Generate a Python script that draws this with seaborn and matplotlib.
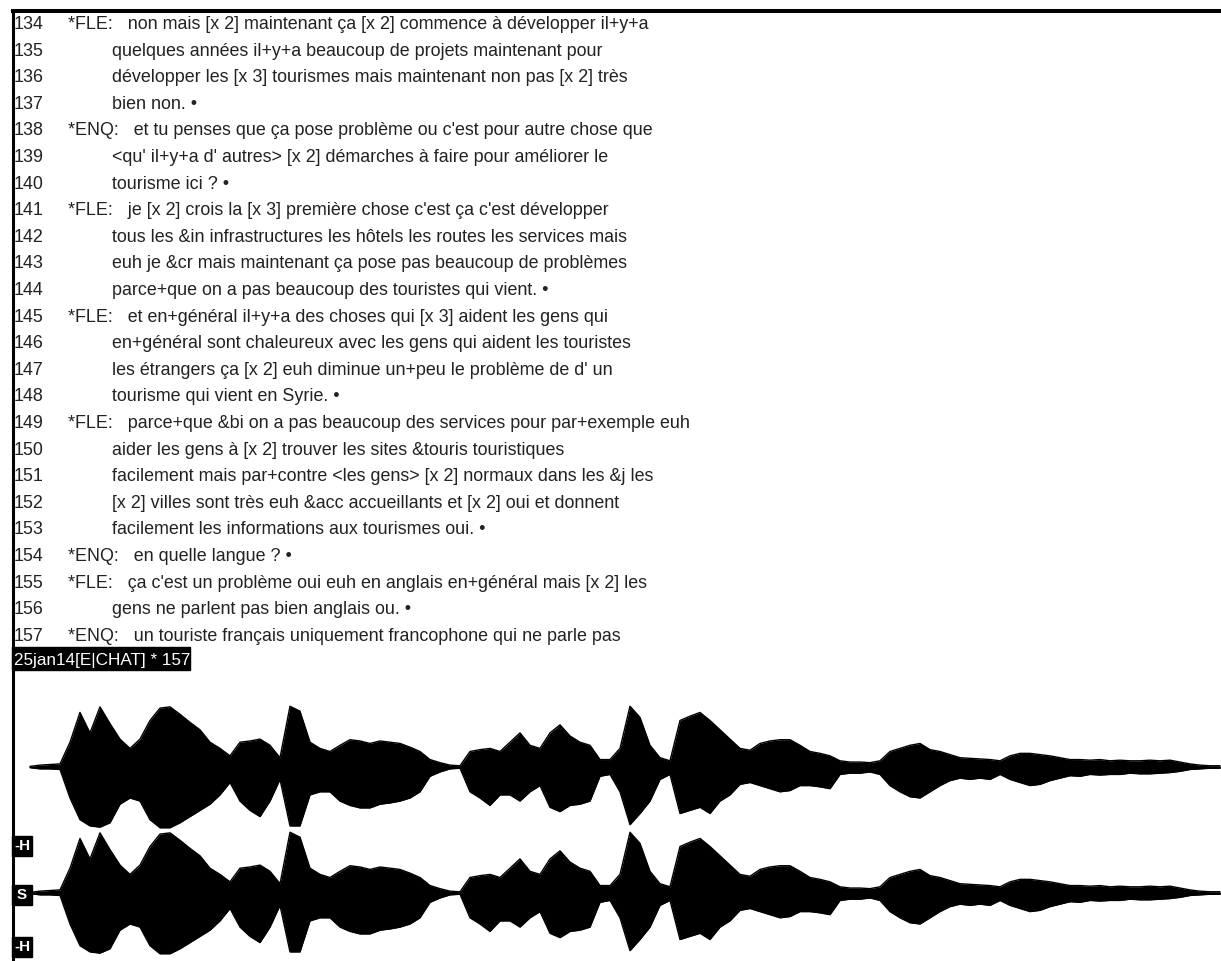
import numpy as np
import matplotlib
matplotlib.use("Agg")
import matplotlib.pyplot as plt
from matplotlib.patches import Rectangle
import seaborn as sns

sns.set_style("white")
plt.rcParams['font.family'] = ['Liberation Sans', 'DejaVu Sans']

# transcript lines shown in the editor
line_numbers = list(range(134, 158))
speakers = ["*FLE:", "", "", "", "*ENQ:", "", "", "*FLE:", "", "", "",
            "*FLE:", "", "", "", "*FLE:", "", "", "", "", "*ENQ:", "*FLE:", "", "*ENQ:"]
utterances = [
    "non mais [x 2] maintenant ça [x 2] commence à développer il+y+a",
    "quelques années il+y+a beaucoup de projets maintenant pour",
    "développer les [x 3] tourismes mais maintenant non pas [x 2] très",
    "bien non. •",
    "et tu penses que ça pose problème ou c'est pour autre chose que",
    "<qu' il+y+a d' autres> [x 2] démarches à faire pour améliorer le",
    "tourisme ici ? •",
    "je [x 2] crois la [x 3] première chose c'est ça c'est développer",
    "tous les &in infrastructures les hôtels les routes les services mais",
    "euh je &cr mais maintenant ça pose pas beaucoup de problèmes",
    "parce+que on a pas beaucoup des touristes qui vient. •",
    "et en+général il+y+a des choses qui [x 3] aident les gens qui",
    "en+général sont chaleureux avec les gens qui aident les touristes",
    "les étrangers ça [x 2] euh diminue un+peu le problème de d' un",
    "tourisme qui vient en Syrie. •",
    "parce+que &bi on a pas beaucoup des services pour par+exemple euh",
    "aider les gens à [x 2] trouver les sites &touris touristiques",
    "facilement mais par+contre <les gens> [x 2] normaux dans les &j les",
    "[x 2] villes sont très euh &acc accueillants et [x 2] oui et donnent",
    "facilement les informations aux tourismes oui. •",
    "en quelle langue ? •",
    "ça c'est un problème oui euh en anglais en+général mais [x 2] les",
    "gens ne parlent pas bien anglais ou. •",
    "un touriste français uniquement francophone qui ne parle pas",
]
status_text = "25jan14[E|CHAT] * 157"
channel_labels = ["-H", "S", "-H"]

# waveform envelope (normalised amplitude), sampled every 10 px
wave_x = list(range(30, 1221, 10))
wave_upper = [0.01, 0.03, 0.04, 0.05, 0.40, 0.88, 0.55, 0.97, 0.70, 0.45,
              0.30, 0.45, 0.75, 0.95, 0.97, 0.85, 0.72, 0.60, 0.40, 0.30,
              0.18, 0.40, 0.42, 0.45, 0.35, 0.15, 0.98, 0.90, 0.40, 0.30,
              0.25, 0.35, 0.44, 0.42, 0.38, 0.42, 0.40, 0.38, 0.32, 0.25,
              0.12, 0.07, 0.03, 0.02, 0.25, 0.28, 0.30, 0.25, 0.40, 0.55,
              0.35, 0.30, 0.55, 0.68, 0.50, 0.40, 0.35, 0.12, 0.12, 0.30,
              0.98, 0.80, 0.35, 0.15, 0.10, 0.75, 0.82, 0.88, 0.75, 0.60,
              0.45, 0.30, 0.27, 0.38, 0.42, 0.44, 0.44, 0.35, 0.25, 0.22,
              0.18, 0.10, 0.08, 0.08, 0.07, 0.10, 0.25, 0.30, 0.35, 0.38,
              0.28, 0.25, 0.20, 0.15, 0.14, 0.13, 0.12, 0.10, 0.18, 0.22,
              0.22, 0.20, 0.18, 0.15, 0.12, 0.12, 0.11, 0.12, 0.10, 0.11,
              0.10, 0.10, 0.11, 0.10, 0.11, 0.08, 0.05, 0.03, 0.02, 0.02]
wave_lower = [0.01, 0.03, 0.03, 0.04, 0.50, 0.85, 0.95, 0.97, 0.90, 0.60,
              0.50, 0.55, 0.85, 0.98, 0.98, 0.90, 0.80, 0.70, 0.60, 0.45,
              0.25, 0.55, 0.70, 0.80, 0.55, 0.20, 0.95, 0.95, 0.45, 0.40,
              0.40, 0.55, 0.62, 0.66, 0.66, 0.60, 0.58, 0.55, 0.50, 0.40,
              0.15, 0.08, 0.03, 0.02, 0.40, 0.50, 0.62, 0.45, 0.45, 0.55,
              0.40, 0.30, 0.65, 0.72, 0.62, 0.60, 0.55, 0.15, 0.12, 0.40,
              0.93, 0.75, 0.55, 0.20, 0.12, 0.75, 0.70, 0.65, 0.75, 0.55,
              0.45, 0.28, 0.25, 0.30, 0.35, 0.40, 0.38, 0.30, 0.30, 0.32,
              0.35, 0.12, 0.10, 0.10, 0.08, 0.12, 0.30, 0.40, 0.48, 0.50,
              0.40, 0.30, 0.22, 0.18, 0.20, 0.18, 0.20, 0.12, 0.20, 0.25,
              0.30, 0.28, 0.22, 0.18, 0.14, 0.15, 0.12, 0.13, 0.12, 0.12,
              0.10, 0.11, 0.11, 0.10, 0.09, 0.07, 0.04, 0.03, 0.02, 0.02]

W, H = 1221, 961
fig = plt.figure(figsize=(W / 100, H / 100), dpi=100)

# two identical channels of the sound window
for center in [767, 893]:
    R = 62
    wax = fig.add_axes([0, 1 - (center + R) / H, 1, 2 * R / H])
    wax.set_xlim(0, W)
    wax.set_ylim(-1, 1)
    wax.axis('off')
    lo = -np.array(wave_lower)
    wax.fill_between(wave_x, lo, wave_upper, color='black', lw=0)
    sns.lineplot(x=wave_x, y=wave_upper, ax=wax, color='black', lw=1)
    sns.lineplot(x=wave_x, y=lo, ax=wax, color='black', lw=1)
    wax.plot([wave_x[0], W], [0, 0], color='black', lw=1)

ax = fig.add_axes([0, 0, 1, 1])
ax.set_xlim(0, W)
ax.set_ylim(H, 0)
ax.axis('off')

# window frame
ax.plot([11, W], [11, 11], color='black', lw=2.9, solid_capstyle='butt')
ax.plot([12.5, 12.5], [9, H], color='black', lw=2.2, solid_capstyle='butt')

fs = 12.9
txt_col = '#222222'
base0, pitch = 29, 26.6
for i, n in enumerate(line_numbers):
    y = base0 + i * pitch
    ax.text(14, y, str(n), fontsize=fs, color=txt_col, va='baseline')
    if speakers[i]:
        ax.text(68, y, speakers[i] + "   " + utterances[i], fontsize=fs,
                color=txt_col, va='baseline')
    else:
        ax.text(112, y, utterances[i], fontsize=fs, color=txt_col, va='baseline')

# status line
ax.add_patch(Rectangle((12, 647), 178, 23, color='black'))
ax.text(14, 665, status_text, fontsize=12.3, color='white', va='baseline')

# channel scale labels
for lab, yc in zip(channel_labels, [846, 895, 947]):
    ax.add_patch(Rectangle((12, yc - 10), 20, 20, color='black'))
    ax.text(22, yc, lab, fontsize=11, color='white', fontweight='bold',
            ha='center', va='center')

fig.savefig("out.png", dpi=100)
